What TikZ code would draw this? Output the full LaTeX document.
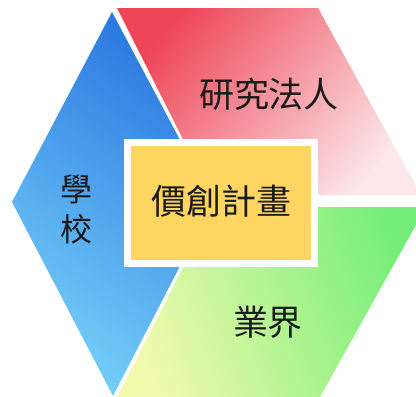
\documentclass[tikz,border=0pt]{standalone}
\usepackage{fontspec}
\newfontfamily\cjk{Noto Sans CJK TC}
\definecolor{blueD}{HTML}{2B78E0}
\definecolor{blueL}{HTML}{74CEF8}
\definecolor{redD}{HTML}{EE4657}
\definecolor{redL}{HTML}{FCE8EA}
\definecolor{greenD}{HTML}{74EE78}
\definecolor{greenL}{HTML}{F2FAAE}
\definecolor{boxY}{HTML}{FDD560}
\definecolor{txt}{HTML}{1A1A1A}
\begin{document}
\begin{tikzpicture}[x=1pt,y=-1pt,
  lbl/.style={font=\cjk\fontsize{35}{35}\selectfont, text=txt, inner sep=0pt},
  center/.style={fill=boxY, draw=white, line width=7pt, minimum width=187pt, minimum height=121pt, inner sep=0pt}]
\useasboundingbox (0,0) rectangle (416,397);
\fill[white] (0,0) rectangle (416,397);
\begin{scope}
\clip (0,0) rectangle (416,397);
\shade[top color=blueD, bottom color=blueL, shading angle=-35]
  (112,12) -- (12,202) -- (113,396) -- (213,202) -- cycle;
\shade[top color=redD, bottom color=redL, shading angle=50]
  (117,8) -- (318,8) -- (421,195) -- (211,195) -- cycle;
\shade[top color=greenD, bottom color=greenL, shading angle=-70]
  (214,207) -- (426,207) -- (319,399) -- (116,399) -- cycle;
\end{scope}
\node[center] (box) at (221,203) {};
\node[lbl] (plan) at (221.5,201) {價創計畫};
\node[lbl] (inst) at (269,94) {研究法人};
\node[lbl] (ind) at (268,322) {業界};
\node[lbl, font=\cjk\fontsize{32}{32}\selectfont] (sch1) at (76,189) {學};
\node[lbl, font=\cjk\fontsize{32}{32}\selectfont] (sch2) at (76,229) {校};
\end{tikzpicture}
\end{document}
